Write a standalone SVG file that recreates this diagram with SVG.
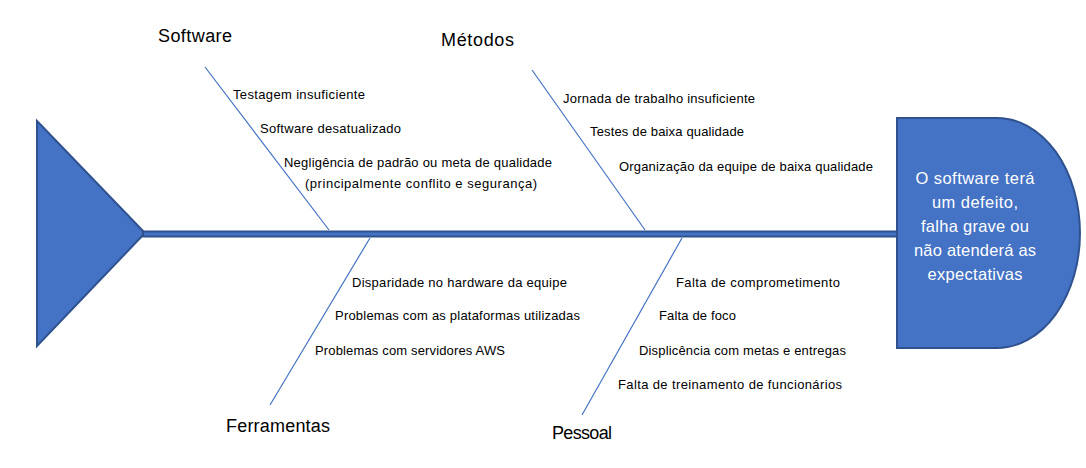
<svg xmlns="http://www.w3.org/2000/svg" width="1086" height="468" viewBox="0 0 1086 468">
<style>
.shape{fill:#4472C4;stroke:#2F528F;stroke-width:2}
.bone{stroke:#4472C4;stroke-width:1.2;fill:none}
.cause{font-family:"Liberation Sans",Arial,sans-serif;font-size:13px;fill:#000}
.cat{font-family:"Liberation Sans",Arial,sans-serif;font-size:18px;fill:#000}
.head{font-family:"Liberation Sans",Arial,sans-serif;font-size:16.5px;fill:#fff;text-anchor:middle}
</style>
<rect width="1086" height="468" fill="#fff"/>
<g id="tail">
<polygon class="shape" points="37,121 145,233 37,346"/>
</g>
<g id="connectors">
<rect id="spine" class="shape" x="143" y="231.5" width="754" height="5"/>
<line class="bone" x1="205" y1="67" x2="329" y2="230"/>
<line class="bone" x1="532" y1="70" x2="645" y2="230"/>
<line class="bone" x1="370" y1="238" x2="270" y2="405"/>
<line class="bone" x1="682" y1="238" x2="582" y2="415"/>
</g>
<g id="head">
<path class="shape" d="M897,118 H997 A83,115 0 0 1 997,348 H897 Z"/>
<text class="head" x="975" y="184" textLength="119">O software terá</text>
<text class="head" x="975" y="208" textLength="86">um defeito,</text>
<text class="head" x="975" y="232" textLength="108">falha grave ou</text>
<text class="head" x="975" y="256" textLength="122">não atenderá as</text>
<text class="head" x="975" y="280" textLength="95">expectativas</text>
</g>
<g id="software">
<text class="cat" x="158" y="42" textLength="74">Software</text>
<text class="cause" x="233" y="99" textLength="132">Testagem insuficiente</text>
<text class="cause" x="260" y="133" textLength="141">Software desatualizado</text>
<text class="cause" x="284" y="167" textLength="268">Negligência de padrão ou meta de qualidade</text>
<text class="cause" x="305" y="188" textLength="232">(principalmente conflito e segurança)</text>
</g>
<g id="metodos">
<text class="cat" x="441" y="46" textLength="73">Métodos</text>
<text class="cause" x="563" y="103" textLength="192">Jornada de trabalho insuficiente</text>
<text class="cause" x="590" y="136" textLength="154">Testes de baixa qualidade</text>
<text class="cause" x="619" y="171" textLength="254">Organização da equipe de baixa qualidade</text>
</g>
<g id="ferramentas">
<text class="cat" x="226" y="432" textLength="104">Ferramentas</text>
<text class="cause" x="352" y="287" textLength="215">Disparidade no hardware da equipe</text>
<text class="cause" x="335" y="320" textLength="245">Problemas com as plataformas utilizadas</text>
<text class="cause" x="315" y="355" textLength="190">Problemas com servidores AWS</text>
</g>
<g id="pessoal">
<text class="cat" x="552" y="439" textLength="60">Pessoal</text>
<text class="cause" x="676" y="287" textLength="164">Falta de comprometimento</text>
<text class="cause" x="659" y="320" textLength="77">Falta de foco</text>
<text class="cause" x="639" y="355" textLength="207">Displicência com metas e entregas</text>
<text class="cause" x="618" y="389" textLength="224">Falta de treinamento de funcionários</text>
</g>
</svg>
